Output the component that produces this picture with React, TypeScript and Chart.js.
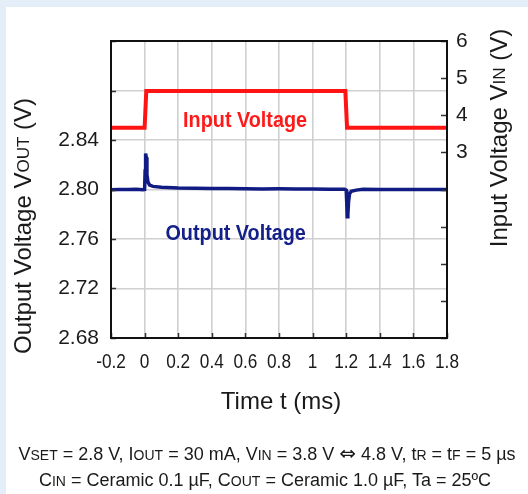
import React, { useEffect, useRef } from 'react';
import { Chart, registerables } from 'chart.js';

Chart.register(...registerables);

// ---------- data ----------
// Output voltage VOUT (left axis, V) vs time (ms)
const outTime = [
  -0.2, -0.15, -0.1, -0.05, -0.01, 0.0, 0.003, 0.006, 0.01, 0.014, 0.02, 0.03, 0.05,
  0.1, 0.2, 0.3, 0.4, 0.5, 0.6, 0.7, 0.8, 0.9, 1.0, 1.1, 1.19, 1.2, 1.203, 1.206,
  1.21, 1.214, 1.22, 1.23, 1.26, 1.3, 1.4, 1.5, 1.6, 1.7, 1.8,
];
const outVolt = [
  2.7998, 2.8001, 2.7999, 2.8001, 2.7998, 2.8000, 2.8150, 2.8290, 2.8260, 2.8120, 2.8060, 2.8035, 2.8025,
  2.8018, 2.8012, 2.8010, 2.8008, 2.8008, 2.8006, 2.8005, 2.8006, 2.8004, 2.8004, 2.8003, 2.8003, 2.7995, 2.7900, 2.7780,
  2.7800, 2.7900, 2.7965, 2.7985, 2.7995, 2.8002, 2.8001, 2.8001, 2.8000, 2.8000, 2.7999,
];
// Input voltage VIN (right axis, V) vs time (ms)
const inTime = [-0.2, 0.0, 0.01, 0.6, 1.195, 1.205, 1.5, 1.8];
const inVolt = [3.66, 3.66, 4.65, 4.65, 4.65, 3.66, 3.66, 3.66];

// axis ranges / ticks
const xMin = -0.2, xMax = 1.8, xStep = 0.2;
const leftMin = 2.68, leftMax = 2.92, leftStep = 0.04, leftLabelMax = 2.84;
const rightMin = -2, rightMax = 6, rightStep = 1, rightLabelMin = 3;

// text
const xTitle = 'Time t (ms)';
const leftTitle = [['Output Voltage V', false], ['OUT', true], [' (V)', false]] as [string, boolean][];
const rightTitle = [['Input Voltage V', false], ['IN', true], [' (V)', false]] as [string, boolean][];
const annotationLabels = ['Input Voltage', 'Output Voltage'];
const annotationX = [0.598, 0.542];
const annotationY = [3.69, 2.7592];
const annotationAxis = ['y1', 'y'];
const annotationColors = ['#ff1a1a', '#14208a'];

const SANS = '"Liberation Sans", Arial, Helvetica, sans-serif';
const NARROW_SCALE = 0.9;

function formatX(v: number) {
  return String(Math.round(v * 10) / 10);
}

function drawSegments(ctx: CanvasRenderingContext2D, segs: [string, boolean][], big: number, small: number) {
  let total = 0;
  const widths = segs.map(([t, s]) => {
    ctx.font = `${s ? small : big}px ${SANS}`;
    const w = ctx.measureText(t).width;
    total += w;
    return w;
  });
  let x = -total / 2;
  segs.forEach(([t, s], i) => {
    ctx.font = `${s ? small : big}px ${SANS}`;
    ctx.fillText(t, x, 0);
    x += widths[i];
  });
}

function narrowText(ctx: CanvasRenderingContext2D, text: string, x: number, y: number, scale: number) {
  ctx.save();
  ctx.translate(x, y);
  ctx.scale(scale, 1);
  ctx.fillText(text, 0, 0);
  ctx.restore();
}

const decorPlugin = {
  id: 'decor',
  afterDatasetsDraw(chart: any) {
    const { ctx, chartArea: a, scales } = chart;
    ctx.save();
    // inward tick marks
    ctx.strokeStyle = '#333';
    ctx.lineWidth = 1.5;
    ctx.beginPath();
    scales.y.ticks.forEach((t: any) => {
      const y = Math.round(scales.y.getPixelForValue(t.value)) + 0.5;
      ctx.moveTo(a.left, y); ctx.lineTo(a.left + 5, y);
    });
    scales.y1.ticks.forEach((t: any) => {
      const y = Math.round(scales.y1.getPixelForValue(t.value)) + 0.5;
      ctx.moveTo(a.right - 6, y); ctx.lineTo(a.right, y);
    });
    scales.x.ticks.forEach((t: any) => {
      const x = Math.round(scales.x.getPixelForValue(t.value)) + 0.5;
      ctx.moveTo(x, a.bottom); ctx.lineTo(x, a.bottom - 5);
    });
    ctx.stroke();
    // frame
    ctx.strokeStyle = '#111';
    ctx.lineWidth = 2;
    ctx.strokeRect(a.left, a.top, a.right - a.left, a.bottom - a.top);

    // x tick labels (condensed, Arial-Narrow-like)
    ctx.fillStyle = '#1a1a1a';
    ctx.font = `20px ${SANS}`;
    ctx.textAlign = 'center';
    ctx.textBaseline = 'middle';
    scales.x.ticks.forEach((t: any) => {
      const x = scales.x.getPixelForValue(t.value);
      narrowText(ctx, formatX(t.value), x, a.bottom + 24, 0.86);
    });

    // annotations
    ctx.textAlign = 'center';
    ctx.textBaseline = 'alphabetic';
    annotationLabels.forEach((label, i) => {
      const sc = scales[annotationAxis[i]];
      const x = scales.x.getPixelForValue(annotationX[i]);
      const y = sc.getPixelForValue(annotationY[i]);
      ctx.font = `bold 22px ${SANS}`;
      ctx.fillStyle = annotationColors[i];
      narrowText(ctx, label, x, y, NARROW_SCALE);
    });

    // titles
    ctx.fillStyle = '#1a1a1a';
    ctx.textBaseline = 'middle';
    ctx.textAlign = 'left';
    ctx.save();
    ctx.translate(24, 226);
    ctx.rotate(-Math.PI / 2);
    drawSegments(ctx, leftTitle, 24, 17);
    ctx.restore();
    ctx.save();
    ctx.translate(500, 138);
    ctx.rotate(-Math.PI / 2);
    drawSegments(ctx, rightTitle, 24, 17);
    ctx.restore();
    ctx.textAlign = 'center';
    ctx.font = `24px ${SANS}`;
    ctx.fillText(xTitle, 281, 402);
    ctx.restore();
  },
};

function Sm({ children }: { children: React.ReactNode }) {
  return <span style={{ fontSize: '14px' }}>{children}</span>;
}

export default function App() {
  const ref = useRef<HTMLCanvasElement | null>(null);
  useEffect(() => {
    if (!ref.current) return;
    const chart = new Chart(ref.current, {
      type: 'line',
      data: {
        datasets: [
          {
            label: 'Input Voltage',
            data: inTime.map((t, i) => ({ x: t, y: inVolt[i] })),
            yAxisID: 'y1',
            borderColor: '#ff1414',
            borderWidth: 4,
            pointRadius: 0,
            tension: 0,
          },
          {
            label: 'Output Voltage',
            data: outTime.map((t, i) => ({ x: t, y: outVolt[i] })),
            yAxisID: 'y',
            borderColor: '#101c84',
            borderWidth: 3.5,
            pointRadius: 0,
            tension: 0,
          },
        ],
      },
      options: {
        animation: false,
        responsive: false,
        maintainAspectRatio: false,
        devicePixelRatio: 1,
        layout: { padding: { top: 41, left: 0, right: 0, bottom: 0 } },
        plugins: { legend: { display: false }, tooltip: { enabled: false } },
        scales: {
          x: {
            type: 'linear',
            position: 'bottom',
            min: xMin,
            max: xMax,
            ticks: {
              display: false,
              stepSize: xStep,
              autoSkip: false,
              callback: (v: any) => formatX(Number(v)),
            },
            grid: { color: '#d0d0d0', lineWidth: 1.6, drawTicks: false },
            border: { display: false },
            afterFit: (s: any) => { s.height = 156; },
          },
          y: {
            type: 'linear',
            position: 'left',
            min: leftMin,
            max: leftMax,
            ticks: {
              stepSize: leftStep,
              color: '#1a1a1a',
              font: { family: SANS, size: 21 },
              padding: 12,
              autoSkip: false,
              callback: (v: any) => (Number(v) <= leftLabelMax + 1e-6 ? Number(v).toFixed(2) : ''),
            },
            grid: { color: '#d0d0d0', lineWidth: 1.6, drawTicks: false },
            border: { display: false },
            afterFit: (s: any) => { s.width = 111; },
          },
          y1: {
            type: 'linear',
            position: 'right',
            min: rightMin,
            max: rightMax,
            ticks: {
              stepSize: rightStep,
              color: '#1a1a1a',
              font: { family: SANS, size: 21 },
              padding: 9,
              autoSkip: false,
              callback: (v: any) => (Number(v) >= rightLabelMin ? String(v) : ''),
            },
            grid: { display: false, drawTicks: false },
            border: { display: false },
            afterFit: (s: any) => { s.width = 81; },
          },
        },
      },
      plugins: [decorPlugin],
    } as any);
    return () => chart.destroy();
  }, []);

  return (
    <div style={{ position: 'fixed', left: 0, top: 0, width: 528, height: 494, background: '#e4eef8', overflow: 'hidden' }}>
      <div style={{ position: 'absolute', left: 6, top: 7, right: 0, bottom: 0, background: '#ffffff' }} />
      <canvas ref={ref} width={528} height={494} style={{ position: 'absolute', left: 0, top: 0, width: 528, height: 494 }} />
      <div
        style={{
          position: 'absolute', left: 6, top: 442, width: 522, textAlign: 'center',
          fontFamily: SANS, fontSize: '18px', lineHeight: '25px', color: '#1a1a1a', whiteSpace: 'nowrap',
        }}
      >
        <div>V<Sm>SET</Sm> = 2.8 V, I<Sm>OUT</Sm> = 30 mA, V<Sm>IN</Sm> = 3.8 V <span style={{ fontFamily: '"DejaVu Sans", sans-serif', fontSize: '20px', lineHeight: '20px' }}>⇔</span> 4.8 V, t<Sm>R</Sm> = t<Sm>F</Sm> = 5 µs</div>
        <div style={{ paddingRight: '4px' }}>C<Sm>IN</Sm> = Ceramic 0.1 µF, C<Sm>OUT</Sm> = Ceramic 1.0 µF, Ta = 25ºC</div>
      </div>
    </div>
  );
}
